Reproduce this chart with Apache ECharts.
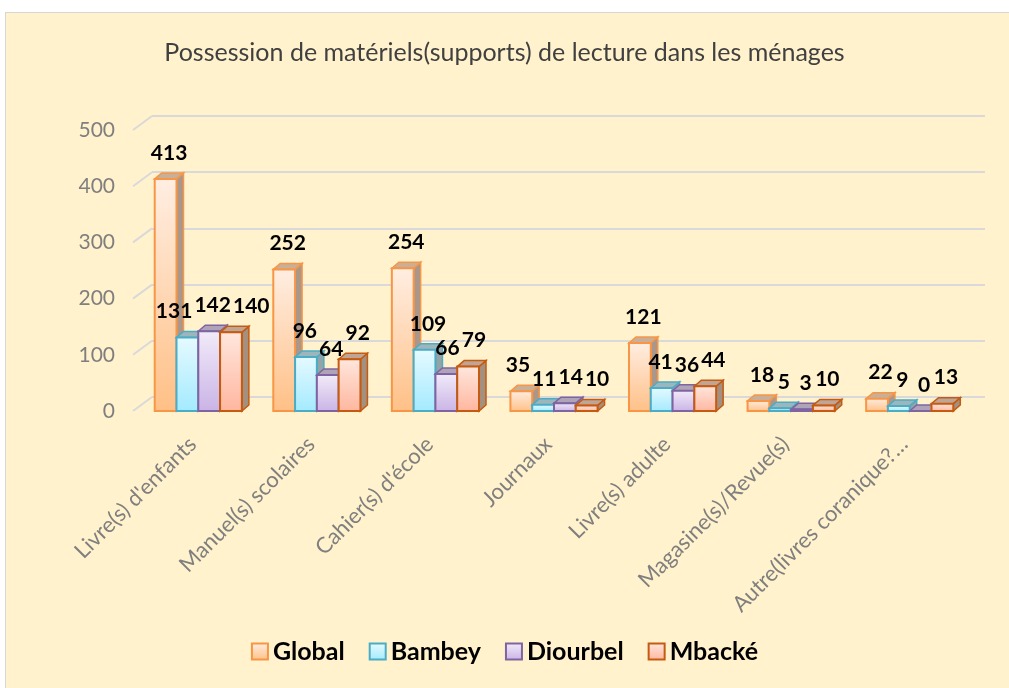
<!DOCTYPE html>
<html>
<head>
<meta charset="utf-8">
<script src="https://cdn.jsdelivr.net/npm/echarts@6/dist/echarts.min.js"></script>
<style>
  html, body { margin: 0; padding: 0; background: #fff; }
  #bg { position: absolute; left: 5px; top: 12px; width: 1010px; height: 690px;
        background: #FFF2CC; border: 1px solid #D6D6D6; box-sizing: border-box; }
  #chart { position: absolute; left: 0; top: 0; width: 1009px; height: 688px; }
</style>
</head>
<body>
<div id="bg"></div>
<div id="chart"></div>
<script>
const categories = ["Livre(s) d'enfants", "Manuel(s) scolaires", "Cahier(s) d'école", "Journaux",
  "Livre(s) adulte", "Magasine(s)/Revue(s)", "Autre(livres coranique?…"];
const seriesNames = ["Global", "Bambey", "Diourbel", "Mbacké"];
const globalVals = [413, 252, 254, 35, 121, 18, 22];
const bambeyVals = [131, 96, 109, 11, 41, 5, 9];
const diourbelVals = [142, 64, 66, 14, 36, 3, 0];
const mbackeVals = [140, 92, 79, 10, 44, 10, 13];
const yTicks = [0, 100, 200, 300, 400, 500];

const allVals = [globalVals, bambeyVals, diourbelVals, mbackeVals];

// look of each series: front gradient, border, top and side faces
const looks = [
  { top: "#FFEEE2", bottom: "#FFC086", border: "#F79646", cap: "#C9AE98", side: "#A8978A" },
  { top: "#E6FAFF", bottom: "#A3EAFF", border: "#4BACC6", cap: "#9DB6BC", side: "#93A3A6" },
  { top: "#F2ECF9", bottom: "#CAB3E6", border: "#8064A2", cap: "#AFA3B8", side: "#9C93A3" },
  { top: "#FFE7DE", bottom: "#FFB69E", border: "#C55A11", cap: "#BFA596", side: "#A4907F" }
];

const DX = 7, DY = 6;
const GROUP = 0.735;
const LABEL_FS = 21, DIGIT_W = 12.2, LABEL_H = 20, LABEL_UP = 26;

function frontFill(l){
  return new echarts.graphic.LinearGradient(0, 0, 0, 1, [
    { offset: 0, color: l.top }, { offset: 1, color: l.bottom }
  ]);
}

function barBox(api, cat, s){
  const band = api.size([1, 0])[0];
  const gw = band * GROUP, bw = gw / 4;
  const base = api.coord([cat, 0]);
  const x0 = base[0] - gw / 2 + s * bw;
  return { x0, x1: x0 + bw, y0: base[1], topY: api.coord([cat, allVals[s][cat]])[1], bw };
}

// spread the value labels of one category sideways when they collide
function labelSpots(api, cat){
  const spots = allVals.map((vals, s) => {
    const b = barBox(api, cat, s);
    const w = String(vals[cat]).length * DIGIT_W;
    return { x: b.x0 + b.bw / 2 + DX / 2, y: b.topY - LABEL_UP, w, ox: 0 };
  });
  spots.forEach(p => { p.ox = p.x; });
  const clusters = [[0]];
  for(let i = 1; i < spots.length; i++){
    const a = spots[i - 1], b = spots[i];
    const vOverlap = Math.abs(a.y - b.y) < LABEL_H;
    const minX = a.x + a.w / 2 + 2 + b.w / 2;
    if(vOverlap && b.x < minX){
      b.x = minX;
      clusters[clusters.length - 1].push(i);
    } else {
      clusters.push([i]);
    }
  }
  clusters.forEach(c => {
    if(c.length < 2) return;
    const shift = c.reduce((acc, i) => acc + spots[i].ox - spots[i].x, 0) / c.length;
    c.forEach(i => { spots[i].x += shift; });
  });
  return spots;
}

function barRenderer(sIdx){
  const l = looks[sIdx];
  return function(params, api){
    const cat = api.value(0), val = api.value(1);
    const b = barBox(api, cat, sIdx);
    const { x0, x1, y0, topY, bw } = b;
    const spot = labelSpots(api, cat)[sIdx];
    return {
      type: "group",
      children: [
        { type: "polygon", shape: { points: [[x1, topY], [x1 + DX, topY - DY], [x1 + DX, y0 - DY], [x1, y0]] },
          style: { fill: l.side, stroke: l.border, lineWidth: 1.5 } },
        { type: "polygon", shape: { points: [[x0, topY], [x0 + DX, topY - DY], [x1 + DX, topY - DY], [x1, topY]] },
          style: { fill: l.cap, stroke: l.border, lineWidth: 1.5 } },
        { type: "rect", shape: { x: x0, y: topY, width: bw, height: y0 - topY },
          style: { fill: frontFill(l), stroke: l.border, lineWidth: 2 } },
        { type: "text", z2: 100, x: spot.x, y: spot.y,
          style: { text: String(val), fontSize: LABEL_FS, fontWeight: "bold", fontFamily: "Lato",
                   fill: "#000", align: "center", verticalAlign: "middle" } }
      ]
    };
  };
}

const chart = echarts.init(document.getElementById("chart"), null, { renderer: "canvas" });

const barSeries = seriesNames.map((name, s) => ({
  name,
  type: "custom",
  xAxisIndex: 0,
  yAxisIndex: 0,
  renderItem: barRenderer(s),
  encode: { x: 0, y: 1 },
  itemStyle: { color: looks[s].bottom, borderColor: looks[s].border },
  data: allVals[s].map((v, i) => [i, v]),
  z: 3
}));

chart.setOption({
  animation: false,
  backgroundColor: "transparent",
  textStyle: { fontFamily: "Lato" },
  title: {
    text: "Possession de matériels(supports) de lecture dans les ménages",
    left: "center",
    top: 35,
    textStyle: { fontSize: 25, fontWeight: "normal", color: "#404040", fontFamily: "Lato" }
  },
  legend: {
    bottom: 19,
    left: "center",
    icon: "rect",
    itemWidth: 16,
    itemHeight: 16,
    itemGap: 24,
    textStyle: { fontSize: 25, fontWeight: "bold", color: "#000", fontFamily: "Lato" },
    data: seriesNames.map((n, s) => ({
      name: n,
      itemStyle: { color: frontFill(looks[s]), borderColor: looks[s].border, borderWidth: 2 }
    }))
  },
  grid: [
    { left: 139, right: 40, top: 130, bottom: 277 },
    { left: 152, right: 24, top: 116, bottom: 291 }
  ],
  xAxis: [
    {
      type: "category", gridIndex: 0, data: categories,
      axisLine: { show: false }, axisTick: { show: false },
      axisLabel: { rotate: 45, margin: 24, fontSize: 22, color: "#7F7F7F", fontFamily: "Lato",
                   interval: 0, padding: [0, 8, 0, 0] }
    },
    { type: "category", gridIndex: 1, data: categories, show: false }
  ],
  yAxis: [
    {
      type: "value", gridIndex: 0, min: 0, max: 500, interval: 100,
      axisLine: { show: false }, axisTick: { show: false }, splitLine: { show: false },
      axisLabel: { margin: 24, fontSize: 21, color: "#7F7F7F", fontFamily: "Lato" }
    },
    {
      type: "value", gridIndex: 1, min: 0, max: 500, interval: 100,
      axisLine: { show: false }, axisTick: { show: false }, axisLabel: { show: false },
      splitLine: { lineStyle: { color: "#D9D9D9", width: 2 } }
    }
  ],
  series: [
    {
      type: "custom",
      xAxisIndex: 0, yAxisIndex: 0,
      silent: true,
      data: yTicks.map(v => [0, v]),
      encode: { x: 0, y: 1 },
      renderItem: (params, api) => {
        const y = api.coord([0, api.value(1)])[1];
        const x = params.coordSys.x;
        return { type: "line", shape: { x1: x - 6, y1: y, x2: x + 13, y2: y - 14 },
                 style: { stroke: "#D9D9D9", lineWidth: 2 } };
      },
      z: 1
    },
    ...barSeries
  ]
});

window.addEventListener("resize", () => chart.resize());
</script>
</body>
</html>
